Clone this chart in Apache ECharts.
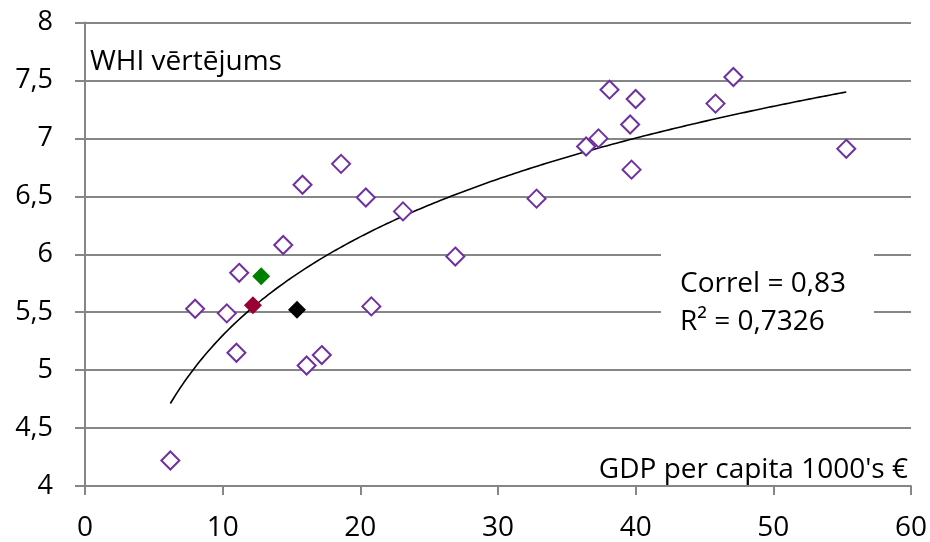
<!DOCTYPE html>
<html>
<head>
<meta charset="utf-8">
<script src="https://cdn.jsdelivr.net/npm/echarts@6/dist/echarts.min.js"></script>
<style>
html,body{margin:0;padding:0;background:#fff;}
#chart{width:930px;height:542px;}
</style>
</head>
<body>
<div id="chart"></div>
<script>
// GDP per capita (1000's €) and WHI score, open purple markers
const gdpOpen = [6.2, 8.0, 10.3, 11.2, 11.0, 14.4, 15.8, 16.1, 17.2, 18.6, 20.4, 20.8, 23.1, 26.9, 32.8, 36.4, 37.3, 38.1, 39.6, 39.7, 40.0, 45.8, 47.1, 55.3];
const whiOpen = [4.22, 5.53, 5.49, 5.84, 5.15, 6.08, 6.60, 5.04, 5.13, 6.78, 6.49, 5.55, 6.37, 5.98, 6.48, 6.93, 7.00, 7.42, 7.12, 6.73, 7.34, 7.30, 7.53, 6.91];
// highlighted filled markers
const highlightNames = ['green', 'maroon', 'black'];
const highlightGdp = [12.8, 12.2, 15.4];
const highlightWhi = [5.81, 5.56, 5.52];
const highlightColors = ['#008000', '#990033', '#000000'];
// axis ticks
const xTicks = [0, 10, 20, 30, 40, 50, 60];
const yTicks = [4, 4.5, 5, 5.5, 6, 6.5, 7, 7.5, 8];
// texts
const yTitle = 'WHI vērtējums';
const xTitle = "GDP per capita 1000's €";
const statLines = ['Correl = 0,83', 'R² = 0,7326'];

const FONT = '"Open Sans", Carlito, Calibri, sans-serif';

// logarithmic least-squares trend fitted to all points
const allX = gdpOpen.concat(highlightGdp);
const allY = whiOpen.concat(highlightWhi);
let n = allX.length, sx = 0, sy = 0, sxx = 0, sxy = 0;
for (let i = 0; i < n; i++) {
  const lx = Math.log(allX[i]);
  sx += lx; sy += allY[i]; sxx += lx * lx; sxy += lx * allY[i];
}
const slope = (n * sxy - sx * sy) / (n * sxx - sx * sx);
const icpt = (sy - slope * sx) / n;
const xmin = Math.min.apply(null, allX), xmax = Math.max.apply(null, allX);
const trend = [];
for (let k = 0; k <= 200; k++) {
  const xv = xmin + (xmax - xmin) * k / 200;
  trend.push([xv, slope * Math.log(xv) + icpt]);
}

const chart = echarts.init(document.getElementById('chart'), null, {renderer: 'canvas'});
const axisColor = '#868686';
const series = [
  {
    type: 'line', data: trend, showSymbol: false, symbol: 'none', silent: true,
    lineStyle: {color: '#000', width: 1.6}, z: 2
  },
  {
    type: 'scatter', symbol: 'diamond', symbolSize: 18,
    data: gdpOpen.map((v, i) => [v, whiOpen[i]]),
    itemStyle: {color: '#ffffff', borderColor: '#7030A0', borderWidth: 2, opacity: 1}, z: 3
  }
];
highlightNames.forEach((nm, i) => {
  series.push({
    type: 'scatter', name: nm, symbol: 'diamond', symbolSize: 18,
    data: [[highlightGdp[i], highlightWhi[i]]],
    itemStyle: {color: highlightColors[i], opacity: 1}, z: 4
  });
});

chart.setOption({
  animation: false,
  backgroundColor: '#ffffff',
  grid: {left: 85, right: 19, top: 22.5, bottom: 53, containLabel: false},
  xAxis: {
    type: 'value', min: xTicks[0], max: xTicks[xTicks.length - 1], interval: 10,
    axisLine: {show: true, onZero: false, lineStyle: {color: axisColor, width: 2}},
    axisTick: {show: true, inside: false, length: 9, lineStyle: {color: axisColor, width: 2}},
    splitLine: {show: false},
    axisLabel: {fontSize: 28, color: '#000', margin: 28, fontFamily: FONT}
  },
  yAxis: {
    type: 'value', min: yTicks[0], max: yTicks[yTicks.length - 1], interval: 0.5,
    axisLine: {show: true, lineStyle: {color: axisColor, width: 2}},
    axisTick: {show: true, inside: false, length: 10, lineStyle: {color: axisColor, width: 2}},
    splitLine: {show: true, lineStyle: {color: axisColor, width: 2}},
    axisLabel: {fontSize: 27, color: '#000', margin: 32, fontFamily: FONT,
      formatter: v => String(v).replace('.', ',')}
  },
  graphic: [
    {type: 'text', left: 90, top: 48, z: 10,
      style: {text: yTitle, fontSize: 28, fill: '#000', fontFamily: FONT}},
    {type: 'text', right: 22, top: 456, z: 10,
      style: {text: xTitle, fontSize: 28, fill: '#000', fontFamily: FONT}},
    {type: 'rect', shape: {x: 661, y: 248, width: 213, height: 88}, z: 9,
      style: {fill: '#ffffff'}},
    {type: 'text', left: 680, top: 270, z: 10,
      style: {text: statLines[0], fontSize: 28, fill: '#000', fontFamily: FONT}},
    {type: 'text', left: 680, top: 308, z: 10,
      style: {text: statLines[1], fontSize: 28, fill: '#000', fontFamily: FONT}}
  ],
  series: series
});
</script>
</body>
</html>
